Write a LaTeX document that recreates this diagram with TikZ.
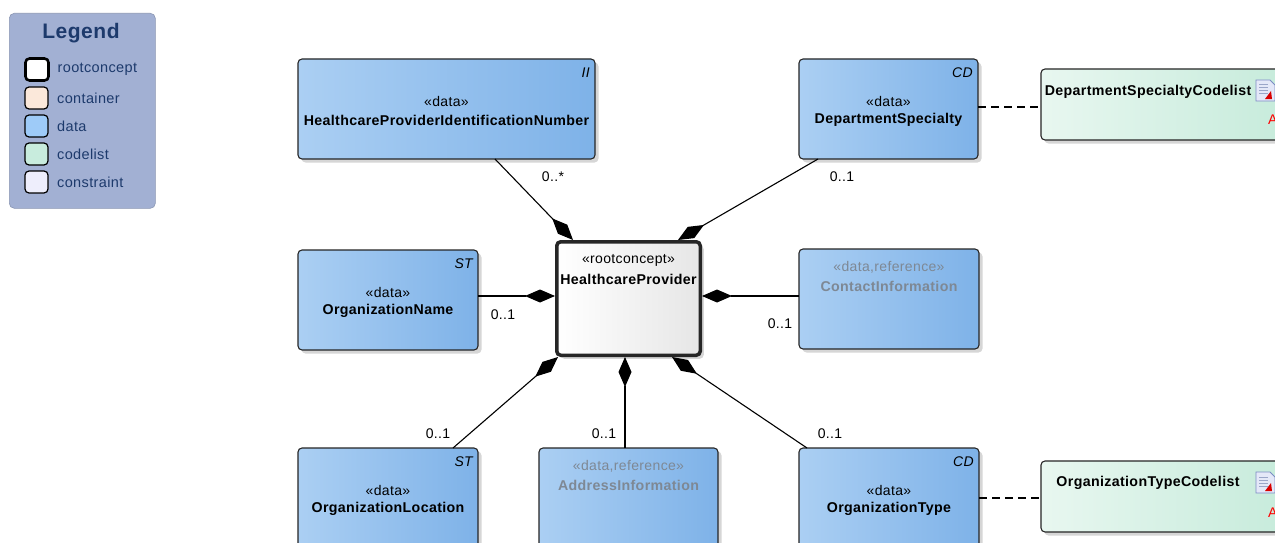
\documentclass[tikz,border=0pt]{standalone}
\usepackage{fontspec}
\setmainfont{Liberation Sans}[LetterSpace=2.5]
\usetikzlibrary{arrows.meta,shadows,calc}
\definecolor{dataL}{HTML}{ABCFF3}
\definecolor{dataR}{HTML}{7EB2E8}
\definecolor{clL}{HTML}{E8F7F0}
\definecolor{clR}{HTML}{C3EAD9}
\definecolor{rootR}{HTML}{E6E6E6}
\definecolor{legbg}{HTML}{A2B0D3}
\definecolor{legtx}{HTML}{1D3A6C}
\definecolor{refgray}{HTML}{7E8894}
\definecolor{iconF}{HTML}{E4E8F8}
\definecolor{iconB}{HTML}{7C8CC4}
\definecolor{iconL}{HTML}{9AA6C8}
\definecolor{swCont}{HTML}{FBE8DA}
\definecolor{swData}{HTML}{9ECBF8}
\definecolor{swCode}{HTML}{C8ECDD}
\definecolor{swCons}{HTML}{EEEEFC}
\newcommand\docicon[2]{%
  \begin{scope}[shift={(#1,#2)}]
    \filldraw[fill=iconF, draw=iconB, line width=0.8pt] (0,0) -- (14,0) -- (19,5) -- (19,21) -- (0,21) -- cycle;
    \foreach \yy in {5,8,11,14} \draw[iconL, line width=1pt] (3,\yy) -- (12,\yy);
    \fill[red!85!black] (9,19) -- (15,11) -- (16,19) -- cycle;
  \end{scope}}
\begin{document}
\begin{tikzpicture}[x=1pt,y=-1pt,
  box/.style={draw=black!85, line width=1.1pt, rounded corners=4pt, anchor=north west,
    inner sep=0pt, outer sep=0pt,
    drop shadow={shadow xshift=3.5pt, shadow yshift=-3.5pt, fill=black!16, opacity=1}},
  databox/.style={box, left color=dataL, right color=dataR, minimum height=100pt},
  clbox/.style={box, left color=clL, right color=clR, minimum width=270pt, minimum height=71pt},
  rootbox/.style={box, line width=3.5pt, left color=white, right color=rootR},
  stereo/.style={inner sep=0pt, font=\fontsize{14}{16}\selectfont},
  refstereo/.style={stereo, text=refgray},
  cname/.style={inner sep=0pt, font=\bfseries\fontsize{14.2}{16}\selectfont},
  refname/.style={cname, text=refgray},
  tagtext/.style={inner sep=0pt, anchor=north east, font=\itshape\fontsize{14}{16}\selectfont},
  mult/.style={inner sep=0pt, font=\fontsize{14}{16}\selectfont},
  assoc/.style={line width=1.1pt, -{Diamond[length=30pt,width=13pt]}},
  dep/.style={line width=1.1pt, dash pattern=on 8pt off 5pt},
  swatch/.style={draw=black, line width=1.2pt, rounded corners=4pt, anchor=north west,
    minimum width=23pt, minimum height=22pt, inner sep=0pt, outer sep=0pt},
  legtext/.style={anchor=west, inner sep=0pt, text=legtx, font=\fontsize{14.5}{16}\selectfont},
]
\clip (0,0) rectangle (1275,543);
\fill[white] (0,0) rectangle (1275,543);

% ---------- Legend ----------
\node[anchor=north west, fill=legbg, draw=legbg!85!black, line width=0.6pt, rounded corners=5pt,
  minimum width=146pt, minimum height=195pt, inner sep=0pt] (legend) at (9,13) {};
\node[inner sep=0pt, text=legtx, font=\bfseries\fontsize{21}{23}\selectfont] (legtitle) at (81,33) {Legend};
\node[swatch, fill=white, line width=2.6pt] (s1) at (25.5,58.5) {};
\node[swatch, fill=swCont] (s2) at (25,87) {};
\node[swatch, fill=swData] (s3) at (25,115) {};
\node[swatch, fill=swCode] (s4) at (25,143) {};
\node[swatch, fill=swCons] (s5) at (25,171) {};
\node[legtext] (l1) at ($(s1.east)+(9,0)$) {rootconcept};
\node[legtext] (l2) at ($(s2.east)+(9,0)$) {container};
\node[legtext] (l3) at ($(s3.east)+(9,0)$) {data};
\node[legtext] (l4) at ($(s4.east)+(9,0)$) {codelist};
\node[legtext] (l5) at ($(s5.east)+(9,0)$) {constraint};

% ---------- Boxes ----------
\node[databox, minimum width=297pt] (hpin) at (298,59) {};
\node[tagtext] at ($(hpin.north east)+(-5,9)$) {II};
\node[stereo] at ($(hpin.north)+(0,42)$) {«data»};
\node[cname] at ($(hpin.north)+(0,61)$) {HealthcareProviderIdentificationNumber};

\node[databox, minimum width=179pt] (ds) at (799,59) {};
\node[tagtext] at ($(ds.north east)+(-5,9)$) {CD};
\node[stereo] at ($(ds.north)+(0,42)$) {«data»};
\node[cname] at ($(ds.north)+(0,61)$) {DepartmentSpecialty};

\node[clbox] (dscl) at (1041,69) {};
\node[cname] at (1148,92) {DepartmentSpecialtyCodelist};
\docicon{1256}{80}
\node[anchor=west, inner sep=0pt, text=red, font=\fontsize{14}{16}\selectfont] at (1268,120) {A};

\node[databox, minimum width=180pt] (oname) at (298,250) {};
\node[tagtext] at ($(oname.north east)+(-5,9)$) {ST};
\node[stereo] at ($(oname.north)+(0,42)$) {«data»};
\node[cname] at ($(oname.north)+(0,61)$) {OrganizationName};

\node[rootbox, minimum width=143.5pt, minimum height=113.5pt] (hp) at (556.75,241.75) {};
\node[stereo] at ($(hp.north)+(0,18.5)$) {«rootconcept»};
\node[cname] at ($(hp.north)+(0,37.5)$) {HealthcareProvider};

\node[databox, minimum width=180pt] (contact) at (799,249) {};
\node[refstereo] at ($(contact.north)+(0,18)$) {«data,reference»};
\node[refname] at ($(contact.north)+(0,37)$) {ContactInformation};

\node[databox, minimum width=180pt] (oloc) at (298,448) {};
\node[tagtext] at ($(oloc.north east)+(-5,9)$) {ST};
\node[stereo] at ($(oloc.north)+(0,42)$) {«data»};
\node[cname] at ($(oloc.north)+(0,61)$) {OrganizationLocation};

\node[databox, minimum width=179pt] (addr) at (539,448) {};
\node[refstereo] at ($(addr.north)+(0,18)$) {«data,reference»};
\node[refname] at ($(addr.north)+(0,37)$) {AddressInformation};

\node[databox, minimum width=180pt] (otype) at (799,448) {};
\node[tagtext] at ($(otype.north east)+(-5,9)$) {CD};
\node[stereo] at ($(otype.north)+(0,42)$) {«data»};
\node[cname] at ($(otype.north)+(0,61)$) {OrganizationType};

\node[clbox] (otcl) at (1041,461) {};
\node[cname] at (1148,483) {OrganizationTypeCodelist};
\docicon{1256}{472}
\node[anchor=west, inner sep=0pt, text=red, font=\fontsize{14}{16}\selectfont] at (1268,513) {A};

% ---------- Connectors ----------
\draw[assoc] ($(hpin.south west)+(197,0)$) -- ($(hp.north west)+(16.25,-1.75)$);
\draw[assoc] ($(ds.south west)+(19,0)$) -- ($(hp.north west)+(121.25,-1.75)$);
\draw[assoc] ($(oname.north east)+(0,46)$) -- ($(hp.north west)+(-1.75,54.25)$);
\draw[assoc] ($(contact.north west)+(0,47)$) -- ($(hp.north east)+(1.75,54.25)$);
\draw[assoc] ($(oloc.north west)+(155,0)$) -- ($(hp.south west)+(1.25,1.75)$);
\draw[assoc] ($(addr.north west)+(86,0)$) -- ($(hp.south west)+(68.25,1.75)$);
\draw[assoc] ($(otype.north west)+(8,0)$) -- ($(hp.south west)+(115.25,1.75)$);

\draw[dep] ($(ds.east)+(0,-2)$) -- ($(dscl.west)+(0,2.5)$);
\draw[dep] (otype.east) -- ($(otcl.west)+(0,1.5)$);

% ---------- Multiplicities ----------
\node[mult] (m1) at (553,177) {0..*};
\node[mult] (m2) at (842,177) {0..1};
\node[mult] (m3) at (503,315) {0..1};
\node[mult] (m4) at (780,324) {0..1};
\node[mult] (m5) at (438,434) {0..1};
\node[mult] (m6) at (604,434) {0..1};
\node[mult] (m7) at (830,434) {0..1};
\end{tikzpicture}
\end{document}
